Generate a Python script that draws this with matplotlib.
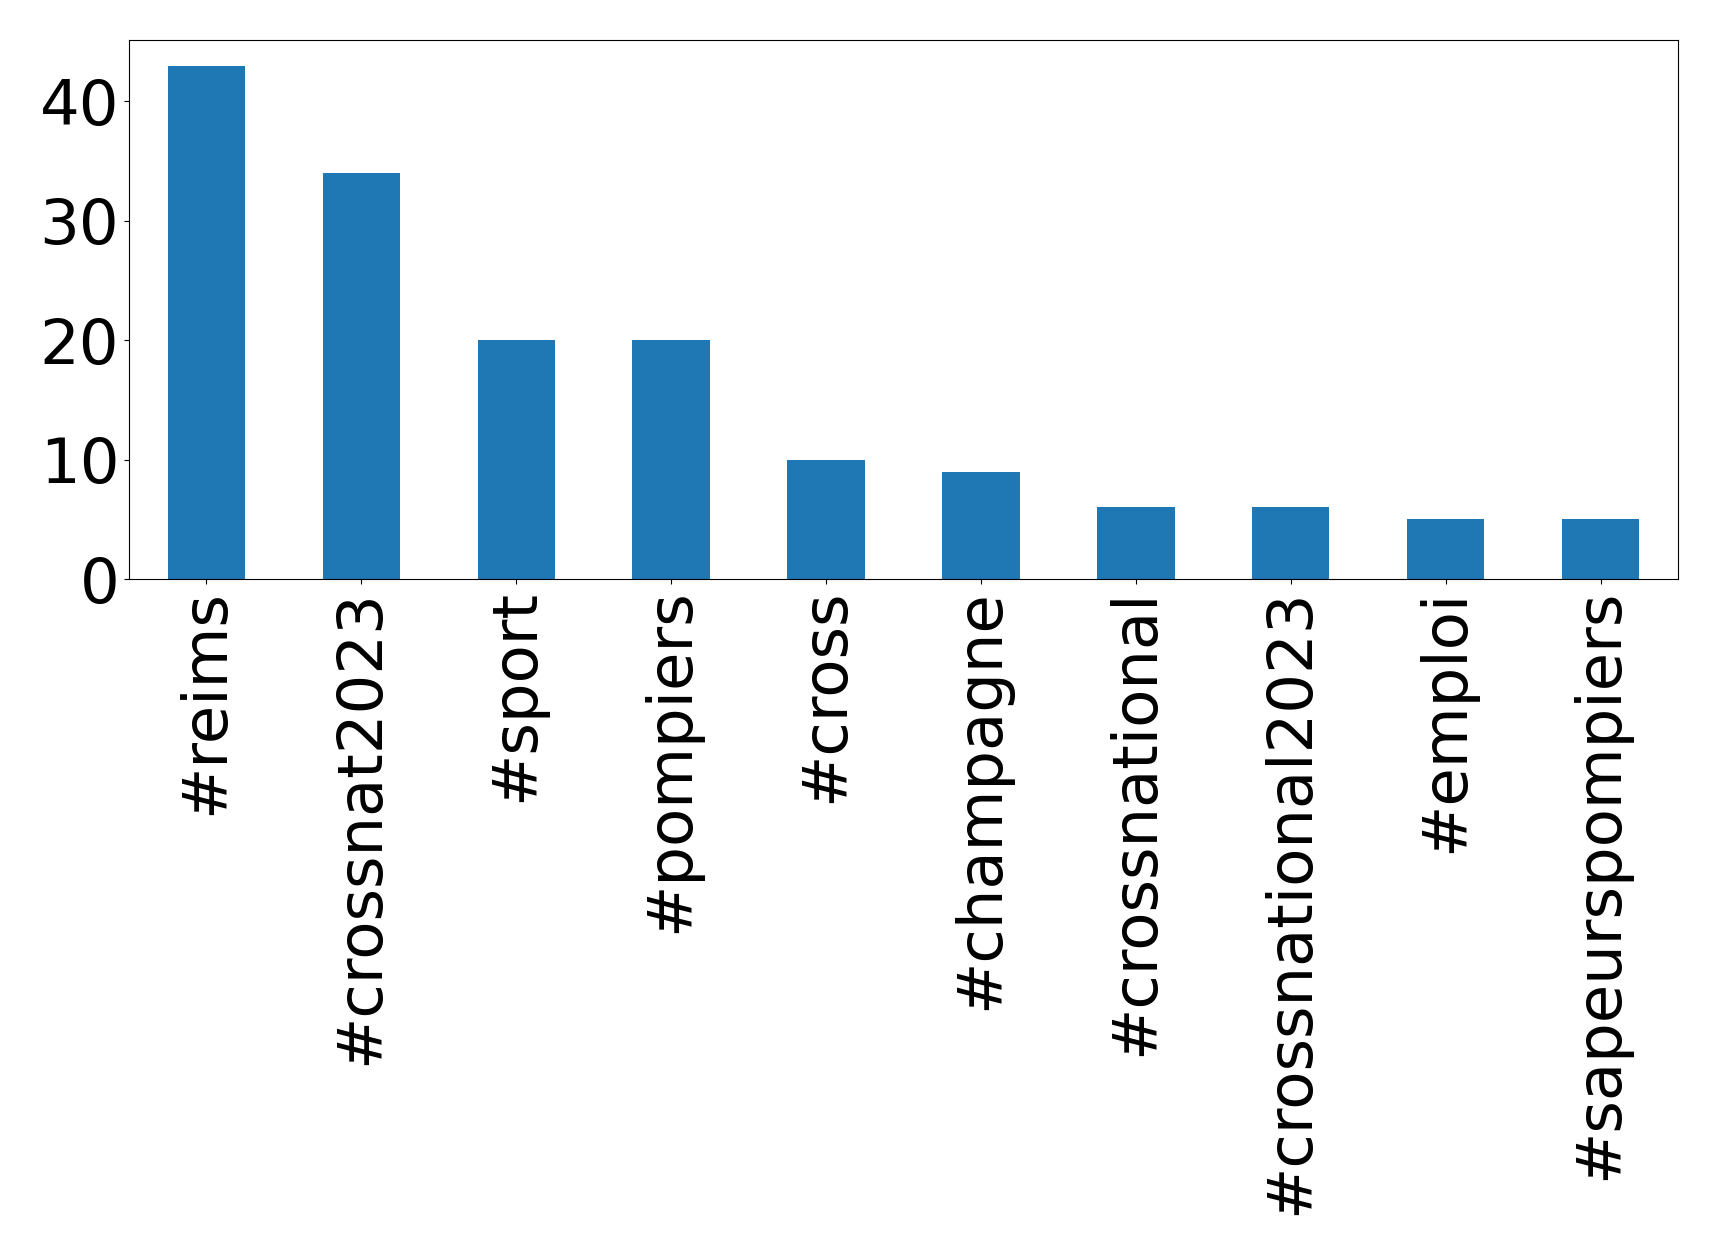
import matplotlib
matplotlib.use('Agg')
import matplotlib.pyplot as plt
import numpy as np

hashtags = ['#reims', '#crossnat2023', '#sport', '#pompiers', '#cross',
            '#champagne', '#crossnational', '#crossnational2023', '#emploi',
            '#sapeurspompiers']
counts = [43, 34, 20, 20, 10, 9, 6, 6, 5, 5]

fig = plt.figure(figsize=(17.19, 12.55), dpi=100)
ax = fig.add_axes([129/1719, 1 - 579/1255, (1678-129)/1719, (579-40)/1255])

x = np.arange(len(hashtags))
ax.bar(x, counts, width=0.5, color='#1f77b4')
ax.set_xlim(-0.5, len(hashtags) - 0.5)
ax.set_ylim(0, max(counts) * 1.05)
ax.set_xticks(x)
ax.set_xticklabels(hashtags, rotation=90, fontsize=45)
ax.set_yticks([0, 10, 20, 30, 40])
ax.tick_params(axis='y', labelsize=45)

fig.savefig('out.png', dpi=100)
